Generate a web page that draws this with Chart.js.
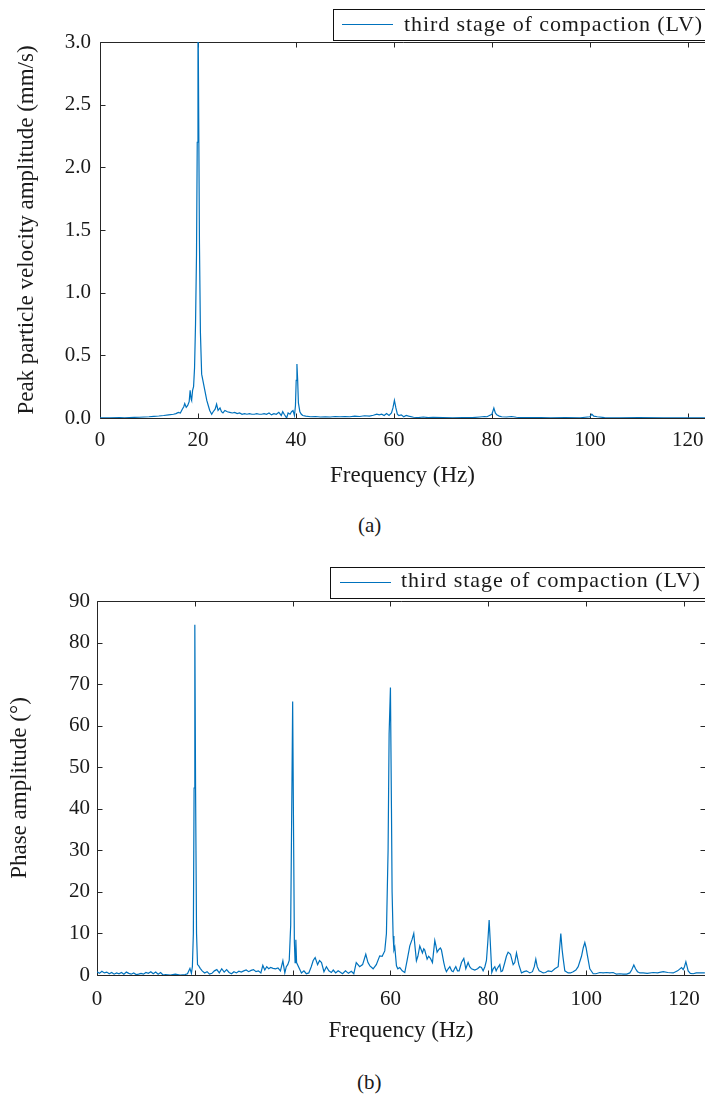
<!DOCTYPE html>
<html>
<head>
<meta charset="utf-8">
<script src="https://cdn.jsdelivr.net/npm/chart.js@4.4.1/dist/chart.umd.min.js"></script>
<style>
  html, body { margin: 0; padding: 0; background: #ffffff; }
  body { width: 705px; height: 1097px; position: relative; overflow: hidden; font-family: "Liberation Serif", serif; }
  canvas { position: absolute; left: 0; }
  #chartA { top: 0; }
  #chartB { top: 550px; }
  .cap { position: absolute; font-size: 21px; line-height: 24px; color: #1a1a1a; }
</style>
</head>
<body>
<canvas id="chartA" width="705" height="500"></canvas>
<canvas id="chartB" width="705" height="505"></canvas>
<div class="cap" style="left:358px; top:513px;">(a)</div>
<div class="cap" style="left:357px; top:1070px;">(b)</div>
<script>
// ---- (a) peak particle velocity spectrum ----
const seriesLabel = 'third stage of compaction (LV)';

const freqA = [0, 2, 4, 5, 6, 7, 8, 9, 10, 11, 12, 13, 14, 15, 15.5, 16, 16.4, 16.8, 17.1, 17.3,
  17.6, 17.9, 18.2, 18.4, 18.6, 18.7, 18.9, 19.1, 19.3, 19.5, 19.7, 19.85, 20.0, 20.15, 20.3, 20.5,
  20.75, 21.0, 21.4, 21.8, 22.1, 22.4, 22.8, 23.1, 23.5, 23.8, 24.1, 24.5, 24.8, 25.1, 25.5, 26.0,
  26.5, 27, 27.5, 28, 28.5, 29, 29.5, 30, 30.5, 31, 31.5, 32, 32.5, 33, 33.5, 34, 34.5, 35, 35.5,
  36, 36.5, 37, 37.3, 37.6, 38.1, 38.4, 38.8, 39.1, 39.4, 39.7, 39.9, 40.05, 40.2, 40.35, 40.5,
  40.8, 41.1, 41.4, 42, 43, 44, 45, 46, 47, 48, 49, 50, 51, 52, 53, 54, 55, 55.8, 56.5, 57, 57.5,
  58, 58.5, 59, 59.5, 59.8, 60.1, 60.4, 60.7, 61, 61.5, 62, 62.5, 63, 64, 65, 66, 67, 68, 70, 72,
  74, 76, 77.5, 78, 78.5, 79, 79.5, 80, 80.4, 80.7, 81, 81.5, 82, 83, 84, 85, 86, 88, 90, 92, 95,
  98, 100, 100.4, 100.8, 101.5, 103, 106, 110, 115, 120, 125];
const ampA = [0.002, 0.002, 0.003, 0.002, 0.004, 0.005, 0.006, 0.008, 0.01, 0.013, 0.016, 0.02,
  0.025, 0.03, 0.035, 0.045, 0.04, 0.07, 0.09, 0.115, 0.085, 0.1, 0.13, 0.22, 0.15, 0.14, 0.22,
  0.25, 0.4, 0.75, 1.3, 2.2, 3.4, 2.4, 1.4, 0.68, 0.35, 0.3, 0.22, 0.14, 0.1, 0.06, 0.03, 0.05,
  0.07, 0.11, 0.06, 0.08, 0.05, 0.04, 0.06, 0.05, 0.045, 0.04, 0.045, 0.035, 0.04, 0.03, 0.035,
  0.03, 0.035, 0.03, 0.03, 0.035, 0.03, 0.03, 0.035, 0.03, 0.04, 0.025, 0.035, 0.03, 0.045, 0.02,
  0.05, 0.03, 0.0, 0.04, 0.03, 0.05, 0.06, 0.02, 0.1, 0.3, 0.43, 0.3, 0.12, 0.05, 0.03, 0.02,
  0.015, 0.01, 0.012, 0.008, 0.01, 0.008, 0.012, 0.01, 0.012, 0.01, 0.015, 0.012, 0.018, 0.015,
  0.022, 0.03, 0.025, 0.03, 0.02, 0.035, 0.02, 0.04, 0.08, 0.14, 0.08, 0.03, 0.02, 0.025, 0.01,
  0.02, 0.015, 0.006, 0.004, 0.008, 0.003, 0.005, 0.003, 0.002, 0.004, 0.003, 0.008, 0.01, 0.012,
  0.01, 0.02, 0.03, 0.08, 0.04, 0.025, 0.015, 0.01, 0.008, 0.012, 0.006, 0.003, 0.004, 0.003,
  0.002, 0.003, 0.002, 0.01, 0.03, 0.015, 0.01, 0.003, 0.002, 0.003, 0.002, 0.002, 0.002];

// ---- (b) phase amplitude spectrum ----
const freqB = [0, 0.5, 1, 1.5, 2, 2.5, 3, 3.5, 4, 4.5, 5, 5.5, 6, 6.5, 7, 7.5, 8, 8.5, 9, 9.5, 10,
  10.5, 11, 11.5, 12, 12.5, 13, 13.5, 14, 15, 16, 17, 18, 18.5, 19, 19.3, 19.5, 19.7, 19.85, 20.0,
  20.15, 20.35, 20.55, 20.8, 21.1, 21.5, 22, 22.5, 23, 23.5, 24, 24.5, 25, 25.5, 26, 26.5, 27,
  27.5, 28, 28.5, 29, 29.5, 30, 30.5, 31, 31.5, 32, 32.5, 33, 33.5, 33.9, 34.3, 34.7, 35.1, 35.5,
  36, 36.5, 37, 37.5, 38.0, 38.4, 38.7, 39.0, 39.3, 39.6, 39.85, 40.0, 40.15, 40.35, 40.5, 40.65,
  40.8, 41.2, 41.8, 42.3, 42.8, 43.3, 43.8, 44.2, 44.6, 45.1, 45.5, 45.9, 46.4, 46.9, 47.4, 47.9,
  48.3, 48.8, 49.3, 49.6, 50.2, 50.8, 51.4, 52.0, 52.5, 53.0, 53.7, 54.3, 54.95, 55.4, 55.8,
  56.45, 57.1, 57.8, 58.3, 58.83, 59.17, 59.51, 59.72, 59.99, 60.2, 60.33, 60.54, 60.7, 60.88,
  61.22, 61.5, 61.9, 62.4, 62.92, 63.4, 63.95, 64.4, 64.76, 65.0, 65.3, 65.6, 65.99, 66.3, 66.53,
  66.8, 67.0, 67.49, 67.8, 68.17, 68.58, 68.85, 69.06, 69.3, 69.53, 69.94, 70.2, 70.42, 70.9,
  71.2, 71.44, 71.8, 72.13, 72.5, 72.81, 73.1, 73.35, 73.7, 74.03, 74.51, 74.99, 75.4, 75.87,
  76.2, 76.56, 77.24, 77.8, 78.26, 78.6, 78.94, 79.3, 79.62, 79.9, 80.17, 80.4, 80.71, 81.0,
  81.33, 81.6, 81.8, 82.35, 82.6, 82.9, 83.37, 83.7, 84.05, 84.53, 85.08, 85.4, 85.76, 86.24,
  86.78, 87.3, 87.8, 88.49, 89.03, 89.4, 89.71, 90.0, 90.39, 90.8, 91.21, 91.7, 92.23, 92.92,
  93.6, 94.28, 94.55, 94.82, 95.1, 95.3, 95.64, 96.32, 96.8, 97.35, 97.9, 98.37, 99.05, 99.4,
  99.73, 100.0, 100.21, 100.75, 101.44, 102.0, 102.8, 103.48, 104.2, 104.8, 105.53, 106.2, 106.9,
  107.57, 108.3, 108.93, 109.3, 109.75, 110.1, 110.5, 111.0, 111.66, 112.5, 113.7, 114.6, 115.75,
  116.7, 117.8, 118.7, 119.5, 119.84, 120.1, 120.39, 120.86, 121.3, 121.89, 122.5, 123.25, 124.27];
const phaseB = [0.8, 0.4, 0.9, 0.5, 0.7, 0.3, 0.6, 0.2, 0.5, 0.3, 0.6, 0.2, 0.7, 0.4, 0.2, 0.5,
  0.1, 0.2, 0.4, 0.2, 0.6, 0.4, 0.8, 0.3, 0.7, 0.2, 0.6, 0.0, 0.1, 0.0, 0.2, 0.0, 0.1, 0.3, 1.6,
  0.4, 2.0, 10, 45, 84.3, 45, 10, 2.5, 2.2, 1.6, 1.0, 0.5, 0.8, 0.2, 0.4, 1.0, 1.3, 0.5, 1.5, 0.7,
  1.3, 0.6, 0.3, 0.8, 0.5, 0.9, 0.7, 1.0, 1.2, 0.8, 1.1, 1.3, 0.8, 1.0, 0.5, 2.3, 1.2, 2.0, 1.5,
  1.8, 1.6, 1.5, 1.7, 1.0, 3.4, 0.5, 2.0, 2.5, 3.5, 12, 45, 65.8, 40, 8, 3.0, 8.5, 3.0, 2.0, 0.5,
  1.0, 0.3, 0.5, 2.0, 3.5, 4.2, 2.5, 3.5, 3.0, 0.8, 2.0, 1.0, 0.6, 1.2, 0.5, 1.0, 0.8, 0.3, 1.0,
  0.4, 0.9, 0.3, 3.0, 2.0, 2.5, 5.0, 3.0, 2.2, 1.5, 2.5, 4.6, 4.5, 5.8, 10, 30, 58, 69.2, 40, 20,
  9.4, 6.0, 6.7, 2.2, 1.5, 1.8, 1.0, 0.6, 3.5, 7.0, 8.5, 10.0, 7.0, 3.4, 4.5, 7.0, 6.0, 5.3, 6.3,
  6.0, 3.8, 4.5, 4.0, 3.0, 6.0, 8.3, 7.0, 5.5, 6.2, 6.5, 6.0, 3.0, 1.5, 0.8, 1.5, 2.0, 1.0, 0.8,
  1.5, 2.0, 1.0, 1.0, 3.0, 4.0, 1.5, 3.0, 2.0, 1.5, 1.2, 1.5, 2.0, 1.8, 1.0, 2.0, 3.5, 8, 13.2,
  8.0, 0.6, 1.5, 2.0, 1.0, 1.5, 2.5, 0.8, 1.0, 3.0, 4.5, 5.5, 5.0, 2.5, 3.0, 5.3, 2.5, 0.5, 0.8,
  1.0, 0.5, 0.8, 2.0, 3.8, 2.0, 1.0, 0.8, 0.5, 0.6, 1.0, 0.8, 1.5, 2.0, 6.0, 10.0, 6.0, 4.0, 1.0,
  0.5, 0.5, 0.8, 1.2, 2.0, 4.5, 6.5, 7.8, 6.5, 5.0, 1.5, 0.3, 0.3, 0.6, 0.5, 0.6, 0.5, 0.6, 0.2,
  0.3, 0.2, 0.2, 0.5, 1.2, 2.4, 1.5, 0.8, 0.5, 0.5, 0.4, 0.6, 0.5, 0.8, 0.6, 0.5, 1.0, 1.8, 1.3,
  2.0, 3.2, 1.0, 0.4, 0.3, 0.5, 0.5, 0.5];

const xTicksStep = 20;
const yTicksA = { min: 0, max: 3.0, step: 0.5 };
const yTicksB = { min: 0, max: 90, step: 10 };

const LINE_COLOR = '#0072BD';
const AXIS_COLOR = '#262626';
const TEXT_COLOR = '#1a1a1a';
const SERIF = '"Liberation Serif", "Times New Roman", serif';

// Box frame with inward tick marks (right-hand ticks optional)
const framePlugin = {
  id: 'frame',
  beforeDatasetsDraw(chart, args, o) {
    const { ctx, chartArea: a, scales: { x, y } } = chart;
    const L = Math.round(a.left) + 0.5, R = Math.round(a.right) - 0.5;
    const T = Math.round(a.top) + 0.5, B = Math.round(a.bottom) + 0.5;
    const len = 5;
    ctx.save();
    ctx.strokeStyle = AXIS_COLOR;
    ctx.lineWidth = 1;
    ctx.beginPath();
    ctx.moveTo(R + 2, T); ctx.lineTo(L, T); ctx.lineTo(L, B); ctx.lineTo(R + 2, B);
    x.ticks.forEach((t, i) => {
      const px = Math.round(x.getPixelForTick(i)) + 0.5;
      ctx.moveTo(px, B); ctx.lineTo(px, B - len);
      ctx.moveTo(px, T); ctx.lineTo(px, T + len);
    });
    y.ticks.forEach((t, i) => {
      const py = Math.round(y.getPixelForTick(i)) + 0.5;
      ctx.moveTo(L, py); ctx.lineTo(L + len, py);
      if (o.rightTicks) { ctx.moveTo(R + 1, py); ctx.lineTo(R + 1 - len, py); }
    });
    ctx.stroke();
    ctx.restore();
  }
};

// Boxed legend in the top-right corner
const boxLegendPlugin = {
  id: 'boxLegend',
  afterDraw(chart, args, o) {
    const { ctx } = chart;
    const ds = chart.data.datasets[0];
    ctx.save();
    ctx.strokeStyle = '#111111';
    ctx.lineWidth = 1;
    ctx.strokeRect(o.left + 0.5, o.top + 0.5, 400, o.height);
    ctx.strokeStyle = ds.borderColor;
    ctx.lineWidth = 1.2;
    ctx.beginPath();
    ctx.moveTo(o.lineX1, o.lineY); ctx.lineTo(o.lineX2, o.lineY);
    ctx.stroke();
    ctx.font = o.fontSize + 'px ' + SERIF;
    ctx.fillStyle = TEXT_COLOR;
    ctx.textBaseline = 'alphabetic';
    ctx.textAlign = 'left';
    const text = ds.label;
    const w = ctx.measureText(text).width;
    if ('letterSpacing' in ctx) {
      ctx.letterSpacing = ((o.textWidth - w) / (text.length - 1)).toFixed(2) + 'px';
    }
    ctx.fillText(text, o.textX, o.baseline);
    ctx.restore();
  }
};

function makeChart(id, freqs, values, cfg) {
  const points = freqs.map((f, i) => ({ x: f, y: values[i] }));
  return new Chart(document.getElementById(id), {
    type: 'line',
    data: {
      datasets: [{
        label: seriesLabel,
        data: points,
        borderColor: LINE_COLOR,
        borderWidth: 1.2,
        pointRadius: 0,
        tension: 0,
        fill: false
      }]
    },
    options: {
      responsive: false,
      animation: false,
      devicePixelRatio: 1,
      parsing: false,
      layout: { autoPadding: false, padding: { top: cfg.top, left: 0, right: 0, bottom: 0 } },
      plugins: {
        legend: { display: false },
        tooltip: { enabled: false },
        boxLegend: cfg.legend,
        frame: { rightTicks: cfg.rightTicks }
      },
      scales: {
        x: {
          type: 'linear',
          min: 0,
          max: cfg.xMax,
          grid: { display: false, drawTicks: false },
          border: { display: false },
          ticks: {
            stepSize: xTicksStep,
            includeBounds: false,
            padding: cfg.xTickPad,
            maxRotation: 0,
            color: TEXT_COLOR,
            font: { family: SERIF, size: 21 }
          },
          title: {
            display: true,
            text: 'Frequency (Hz)',
            color: TEXT_COLOR,
            font: { family: SERIF, size: 23 },
            padding: { top: 0, bottom: 10 }
          },
          afterFit(scale) {
            scale.height = cfg.xHeight;
            // keep the plot box running to the right edge of the canvas
            scale.paddingLeft = 0;
            scale.paddingRight = 0;
          }
        },
        y: {
          type: 'linear',
          min: cfg.yTicks.min,
          max: cfg.yTicks.max,
          grid: { display: false, drawTicks: false },
          border: { display: false },
          ticks: {
            stepSize: cfg.yTicks.step,
            padding: cfg.yTickPad,
            color: TEXT_COLOR,
            font: { family: SERIF, size: 21 },
            callback: cfg.yFormat
          },
          title: {
            display: true,
            text: cfg.yTitle,
            color: TEXT_COLOR,
            font: { family: SERIF, size: 23 },
            padding: { top: cfg.yTitlePad, bottom: 0 }
          },
          afterFit(scale) {
            scale.width = cfg.yWidth;
            scale.paddingTop = 0;
            scale.paddingBottom = 0;
          }
        }
      }
    },
    plugins: [framePlugin, boxLegendPlugin]
  });
}

makeChart('chartA', freqA, ampA, {
  top: 42,
  xMax: 123.5,
  xHeight: 82,
  yWidth: 100,
  xTickPad: 10,
  yTickPad: 9,
  yTitlePad: 13,
  rightTicks: false,
  yTicks: yTicksA,
  yFormat: v => Number(v).toFixed(1),
  yTitle: 'Peak particle velocity amplitude (mm/s)',
  legend: { left: 333, top: 9, height: 31, lineX1: 342, lineX2: 393, lineY: 24.5,
            textX: 404, baseline: 31, textWidth: 298, fontSize: 22 }
});

makeChart('chartB', freqB, phaseB, {
  top: 51,
  xMax: 124.3,
  xHeight: 80,
  yWidth: 97,
  xTickPad: 12,
  yTickPad: 7,
  yTitlePad: 6,
  rightTicks: true,
  yTicks: yTicksB,
  yFormat: v => String(v),
  yTitle: 'Phase amplitude (°)',
  legend: { left: 330, top: 17, height: 31, lineX1: 340, lineX2: 391, lineY: 32.5,
            textX: 401, baseline: 37, textWidth: 299, fontSize: 22 }
});
</script>
</body>
</html>
